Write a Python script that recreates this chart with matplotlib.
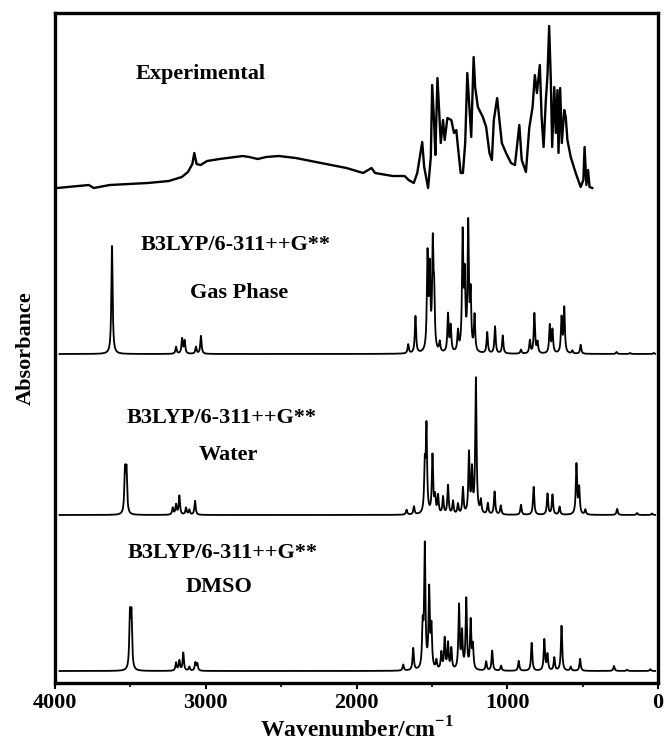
import numpy as np
import matplotlib
matplotlib.use('Agg')
import matplotlib.pyplot as plt
from matplotlib.ticker import MultipleLocator

plt.rcParams['font.family'] = ['Liberation Serif', 'DejaVu Serif']
plt.rcParams['font.weight'] = 'bold'
plt.rcParams['mathtext.fontset'] = 'custom'
plt.rcParams['mathtext.rm'] = 'Liberation Serif:bold'
plt.rcParams['mathtext.bf'] = 'Liberation Serif:bold'

# ---------------- data ----------------
exp_wavenumber = [3985, 3776, 3743, 3637, 3384, 3244, 3159, 3118, 3089, 3076, 3061, 3034,
                  2991, 2908, 2754, 2712, 2655, 2599, 2516, 2403, 2236, 2067, 1956, 1900,
                  1877, 1760, 1681, 1654, 1620, 1597, 1564, 1551, 1525, 1507, 1498, 1485,
                  1477, 1463, 1452, 1441, 1426, 1415, 1397, 1371, 1353, 1338, 1327, 1309,
                  1294, 1279, 1265, 1250, 1239, 1223, 1213, 1195, 1162, 1140, 1118, 1102,
                  1089, 1067, 1052, 1036, 1008, 975, 949, 920, 904, 876, 854, 832, 817,
                  803, 784, 772, 759, 744, 733, 722, 711, 702, 688, 678, 667, 660, 649,
                  638, 622, 612, 601, 579, 546, 513, 495, 487, 475, 464, 454, 436]
exp_absorbance = [0.02, 0.05, 0.02, 0.05, 0.07, 0.09, 0.13, 0.18, 0.26, 0.37, 0.26, 0.25,
                  0.29, 0.31, 0.34, 0.33, 0.31, 0.33, 0.34, 0.32, 0.27, 0.22, 0.17, 0.22,
                  0.17, 0.14, 0.14, 0.10, 0.07, 0.17, 0.48, 0.23, 0.02, 0.33, 1.05, 0.67,
                  0.35, 1.12, 0.80, 0.47, 0.70, 0.50, 0.72, 0.70, 0.57, 0.60, 0.43, 0.17,
                  0.17, 0.47, 1.17, 0.80, 0.53, 1.33, 1.03, 0.83, 0.73, 0.63, 0.37, 0.30,
                  0.70, 0.92, 0.70, 0.47, 0.37, 0.27, 0.25, 0.65, 0.30, 0.18, 0.62, 0.83,
                  1.15, 0.97, 1.25, 0.73, 0.43, 0.90, 1.15, 1.64, 1.10, 0.43, 1.03, 0.57,
                  1.00, 0.37, 1.02, 0.47, 0.80, 0.73, 0.50, 0.33, 0.17, 0.03, 0.10, 0.43,
                  0.05, 0.20, 0.03, 0.02]

gas_freq = [3622, 3197, 3157, 3140, 3065, 3032, 1657, 1609, 1529, 1514, 1494, 1485,
            1448, 1393, 1375, 1327, 1296, 1282, 1259, 1243, 1217, 1133, 1081, 1030,
            909, 850, 820, 799, 718, 700, 640, 622, 568, 513, 275, 185, 28]
gas_int = [1.08, 0.07, 0.15, 0.13, 0.07, 0.18, 0.09, 0.37, 0.95, 0.78, 1.02, 0.50,
           0.10, 0.38, 0.26, 0.20, 1.15, 0.70, 1.25, 0.55, 0.36, 0.21, 0.27, 0.18,
           0.04, 0.13, 0.40, 0.11, 0.28, 0.23, 0.35, 0.45, 0.03, 0.09, 0.02, 0.01, 0.01]

water_freq = [3536, 3526, 3219, 3197, 3175, 3131, 3109, 3071, 1668, 1619, 1547, 1536,
              1496, 1479, 1459, 1426, 1393, 1360, 1327, 1294, 1254, 1234, 1208, 1175,
              1129, 1084, 1043, 909, 825, 733, 700, 653, 541, 523, 482, 271, 139, 40]
water_int = [0.42, 0.42, 0.07, 0.10, 0.19, 0.07, 0.05, 0.14, 0.05, 0.08, 0.45, 0.85,
             0.58, 0.16, 0.18, 0.17, 0.29, 0.13, 0.10, 0.26, 0.60, 0.42, 1.35, 0.13,
             0.11, 0.23, 0.09, 0.10, 0.28, 0.21, 0.20, 0.08, 0.50, 0.26, 0.05, 0.06,
             0.02, 0.015]

dmso_freq = [3503, 3493, 3197, 3175, 3149, 3109, 3069, 3056, 1690, 1624, 1561, 1547,
             1518, 1503, 1470, 1437, 1415, 1393, 1371, 1320, 1300, 1272, 1243, 1228,
             1140, 1100, 1041, 924, 838, 754, 733, 688, 640, 579, 517, 292, 205, 51]
dmso_int = [0.53, 0.53, 0.08, 0.10, 0.18, 0.04, 0.08, 0.07, 0.06, 0.22, 0.40, 1.22,
            0.78, 0.40, 0.09, 0.17, 0.31, 0.26, 0.21, 0.64, 0.36, 0.70, 0.48, 0.23,
            0.09, 0.20, 0.05, 0.10, 0.28, 0.31, 0.16, 0.13, 0.45, 0.04, 0.12, 0.05,
            0.013, 0.017]

series_labels = ['Experimental', 'B3LYP/6-311++G**', 'Gas Phase',
                 'B3LYP/6-311++G**', 'Water', 'B3LYP/6-311++G**', 'DMSO']

# ---------------- layout / style ----------------
OFF_EXP, OFF_GAS, OFF_WATER, OFF_DMSO = 4.93, 3.29, 1.68, 0.12
HALF_WIDTH = 5.0


def broaden(freqs, ints, grid):
    f = np.asarray(freqs)[:, None]
    a = np.asarray(ints)[:, None]
    return (a / (1.0 + ((grid[None, :] - f) / HALF_WIDTH) ** 2)).sum(axis=0)


fig = plt.figure(figsize=(6.65, 7.42), dpi=100)
ax = fig.add_axes([55 / 665, 1 - 683 / 742, 603 / 665, 670 / 742])

grid = np.arange(3970, 18, -0.5)
ax.plot(exp_wavenumber, np.asarray(exp_absorbance) + OFF_EXP, color='black', lw=1.7)
ax.plot(grid, broaden(gas_freq, gas_int, grid) + OFF_GAS, color='black', lw=1.3)
ax.plot(grid, broaden(water_freq, water_int, grid) + OFF_WATER, color='black', lw=1.3)
ax.plot(grid, broaden(dmso_freq, dmso_int, grid) + OFF_DMSO, color='black', lw=1.3)

label_pos = [(3036, 6.09), (2799, 4.38), (2779, 3.90), (2898, 2.65), (2851, 2.28),
             (2891, 1.30), (2911, 0.96)]
for txt, (xp, yp) in zip(series_labels, label_pos):
    ax.text(xp, yp, txt, ha='center', va='center', fontsize=16, fontweight='bold')

ax.set_xlim(4000, 0)
ax.set_ylim(0, 6.70)
ax.set_xticks([4000, 3000, 2000, 1000, 0])
ax.xaxis.set_minor_locator(MultipleLocator(500))
ax.set_yticks([])
ax.tick_params(axis='x', which='major', direction='out', length=4, width=1.5,
               labelsize=16, pad=3)
ax.tick_params(axis='x', which='minor', direction='out', length=3, width=1.2)
for lab in ax.get_xticklabels():
    lab.set_fontweight('bold')
for sp in ax.spines.values():
    sp.set_linewidth(2.4)

ax.set_xlabel(r'Wavenumber/cm$^{\mathbf{-1}}$', fontsize=17, fontweight='bold', labelpad=3)
ax.set_ylabel('Absorbance', fontsize=16, fontweight='bold', labelpad=14)

fig.savefig('out.png', dpi=100)
